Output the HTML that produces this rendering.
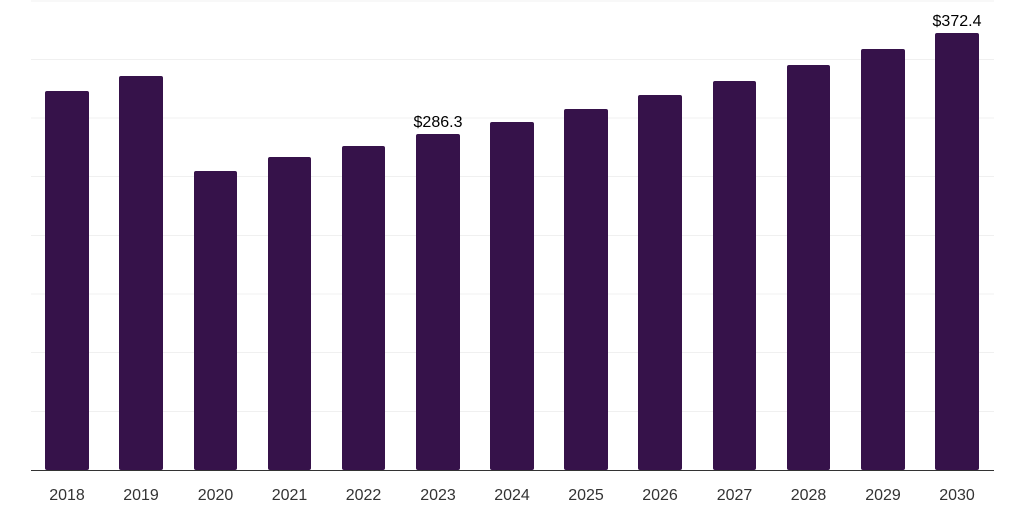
<!DOCTYPE html>
<html><head><meta charset="utf-8"><style>
body{margin:0;background:#fff;}
svg{display:block;font-family:"Liberation Sans",Arial,sans-serif;}
</style></head><body>
<svg width="1024" height="512" viewBox="0 0 1024 512">
<g stroke="#f0f0f0" stroke-width="1">
<line x1="31" x2="994" y1="1" y2="1"/>
<line x1="31" x2="994" y1="59.5" y2="59.5"/>
<line x1="31" x2="994" y1="118" y2="118"/>
<line x1="31" x2="994" y1="176.5" y2="176.5"/>
<line x1="31" x2="994" y1="235.5" y2="235.5"/>
<line x1="31" x2="994" y1="294" y2="294"/>
<line x1="31" x2="994" y1="352.5" y2="352.5"/>
<line x1="31" x2="994" y1="411.5" y2="411.5"/>
</g>
<g fill="#36124a">
<rect x="45" y="91" width="44" height="379" rx="2"/>
<rect x="119" y="76" width="44" height="394" rx="2"/>
<rect x="194" y="171" width="43" height="299" rx="2"/>
<rect x="268" y="157" width="43" height="313" rx="2"/>
<rect x="342" y="146" width="43" height="324" rx="2"/>
<rect x="416" y="134" width="44" height="336" rx="2"/>
<rect x="490" y="122" width="44" height="348" rx="2"/>
<rect x="564" y="109" width="44" height="361" rx="2"/>
<rect x="638" y="95" width="44" height="375" rx="2"/>
<rect x="713" y="81" width="43" height="389" rx="2"/>
<rect x="787" y="65" width="43" height="405" rx="2"/>
<rect x="861" y="49" width="44" height="421" rx="2"/>
<rect x="935" y="33" width="44" height="437" rx="2"/>
</g>
<line x1="31" x2="994" y1="470.5" y2="470.5" stroke="#333" stroke-width="1"/>
<g font-size="16" fill="#333" text-anchor="middle">
<text x="67" y="500">2018</text>
<text x="141" y="500">2019</text>
<text x="215.5" y="500">2020</text>
<text x="289.5" y="500">2021</text>
<text x="363.5" y="500">2022</text>
<text x="438" y="500">2023</text>
<text x="512" y="500">2024</text>
<text x="586" y="500">2025</text>
<text x="660" y="500">2026</text>
<text x="734.5" y="500">2027</text>
<text x="808.5" y="500">2028</text>
<text x="883" y="500">2029</text>
<text x="957" y="500">2030</text>
</g>
<g font-size="16" fill="#000" text-anchor="middle">
<text x="438" y="127">$286.3</text>
<text x="957" y="26">$372.4</text>
</g>
</svg>
</body></html>
